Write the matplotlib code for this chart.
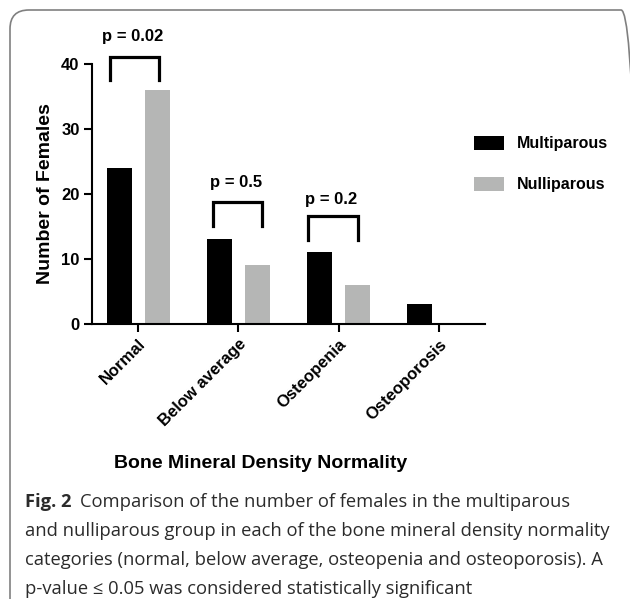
import numpy as np
import matplotlib.pyplot as plt
from matplotlib.patches import FancyBboxPatch

# data
categories = ["Normal", "Below average", "Osteopenia", "Osteoporosis"]
multiparous = [24, 13, 11, 3]
nulliparous = [36, 9, 6, 0]
p_labels = ["p = 0.02", "p = 0.5", "p = 0.2"]
p_label_y = [44.2, 21.7, 19.1]
bracket_tops = [41.1, 18.8, 16.6]
bracket_legs = [37.5, 15.1, 12.9]
yticks = [0, 10, 20, 30, 40]

caption_lines = [
    "and nulliparous group in each of the bone mineral density normality",
    "categories (normal, below average, osteopenia and osteoporosis). A",
    "p-value \u2264 0.05 was considered statistically significant",
]

plt.rcParams['font.family'] = ['Liberation Sans', 'DejaVu Sans']

fig = plt.figure(figsize=(6.30, 5.99), dpi=100)
ax = fig.add_axes([92 / 630, 1 - 324 / 599, (485 - 92) / 630, (324 - 64) / 599])

x = np.arange(len(categories))
w = 0.25
ax.bar(x - 0.19, multiparous, w, color="black", label="Multiparous")
ax.bar(x + 0.19, nulliparous, w, color="#b5b6b5", label="Nulliparous")

ax.set_xlim(-0.46, 3.46)
ax.set_ylim(0, 40)
ax.set_yticks(yticks)
ax.set_xticks(x)
ax.set_xticklabels(categories, rotation=45, ha="right", rotation_mode="anchor",
                   fontsize=12, fontweight="bold")
for lab in ax.get_yticklabels():
    lab.set_fontweight("bold")
    lab.set_fontsize(12)
ax.tick_params(axis="both", width=1.5, length=6, direction="out", pad=3)
for s in ["top", "right"]:
    ax.spines[s].set_visible(False)
for s in ["left", "bottom"]:
    ax.spines[s].set_linewidth(1.5)
ax.set_ylabel("Number of Females", fontsize=14, fontweight="bold", labelpad=5)

# significance brackets
offsets = [(-0.28, 0.21), (-0.25, 0.24), (-0.31, 0.19)]
for i, (lab, top, leg) in enumerate(zip(p_labels, bracket_tops, bracket_legs)):
    x0, x1 = i + offsets[i][0], i + offsets[i][1]
    ax.plot([x0, x0, x1, x1], [leg, top, top, leg], color="black", lw=2.3,
            solid_joinstyle="miter", clip_on=False)
    ax.text((x0 + x1) / 2 - 0.02, p_label_y[i], lab, ha="center", va="center",
            fontsize=12, fontweight="bold", clip_on=False)

ax.legend(loc="upper left", bbox_to_anchor=(0.935, 0.78), frameon=False,
          prop={"weight": "bold", "size": 11.5}, handlelength=1.9,
          handleheight=1.0, labelspacing=1.6, handletextpad=0.8)

fig.text(261 / 630, 1 - 463 / 599, "Bone Mineral Density Normality",
         ha="center", va="center", fontsize=14, fontweight="bold")

# caption
cap_color = "#2b2b2b"
cap_font = ["Open Sans", "DejaVu Sans"]
cap_size = 13.2
fig_lbl = fig.text(25 / 630, 1 - 507 / 599, "Fig. 2", fontsize=cap_size,
                   fontweight="bold", family=cap_font, color=cap_color,
                   va="baseline")
fig.canvas.draw()
bb = fig_lbl.get_window_extent()
fig.text((bb.x1 + 9) / 630, 1 - 507 / 599,
         "Comparison of the number of females in the multiparous",
         fontsize=cap_size, family=cap_font, color=cap_color, va="baseline")
for k, line in enumerate(caption_lines):
    fig.text(25 / 630, 1 - (536 + 29 * k) / 599, line, fontsize=cap_size,
             family=cap_font, color=cap_color, va="baseline")

# rounded frame
frame = FancyBboxPatch((10 / 630, -0.2), 1.0, 1 - 10 / 599 + 0.2,
                       boxstyle="round,pad=0,rounding_size=0.03",
                       transform=fig.transFigure, fill=False,
                       edgecolor="#808080", lw=1.2, mutation_aspect=630 / 599)
fig.patches.append(frame)

fig.savefig("out.png", dpi=100)
